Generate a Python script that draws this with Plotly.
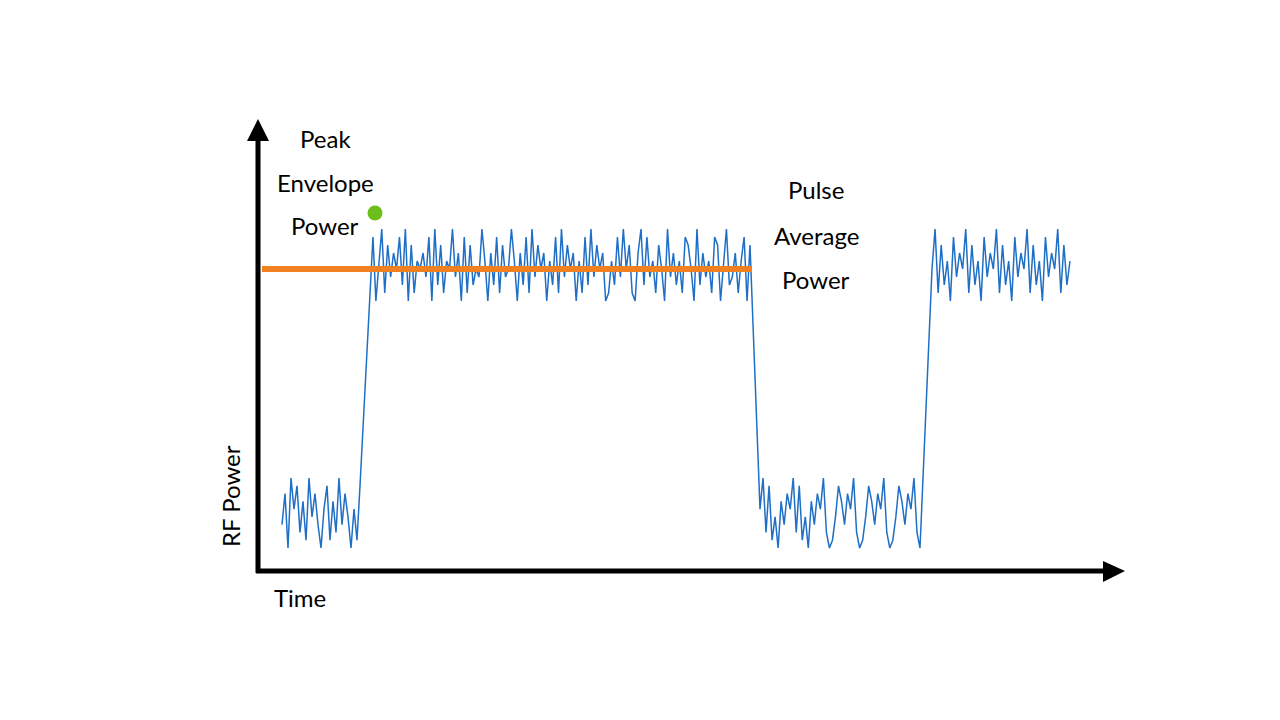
import plotly.graph_objects as go
import numpy as np

# Time axis positions (chart units) and noise digits
low1_x = (282, 360)
high1_x = (370, 750)
low2_x = (760, 920)
high2_x = (932, 1070)
low1_noise = "370958261947305816293740518"
high1_noise = ("2805917364829071546380927154936081724395062817349506281937460528193746051829374601528394710692835174093625187409263518704923615807")
low2_noise = "592814063759281406375920148637592014863759201486375920"
high2_noise = "4917250836491725083649172508364917250836491725"
high_base, high_span = 300, 72
low_base, low_span = 547, 70
pep_level = 268
peak_point = (375, 212)

def seg(rng, digits, base, span):
    xs = np.linspace(rng[0], rng[1], len(digits))
    ys = [base - int(c) / 9 * span for c in digits]
    return list(xs), ys

x1, y1 = seg(low1_x, low1_noise, low_base, low_span)
x2, y2 = seg(high1_x, high1_noise, high_base, high_span)
x3, y3 = seg(low2_x, low2_noise, low_base, low_span)
x4, y4 = seg(high2_x, high2_noise, high_base, high_span)
xs = x1 + x2 + x3 + x4
ys = y1 + y2 + y3 + y4

fig = go.Figure()
fig.add_trace(go.Scatter(x=xs, y=ys, mode="lines", line=dict(color="#1f6fc6", width=1.5)))
fig.add_trace(go.Scatter(x=[262, 752], y=[pep_level, pep_level], mode="lines",
                         line=dict(color="#f08020", width=6)))
fig.add_trace(go.Scatter(x=[peak_point[0]], y=[peak_point[1]], mode="markers",
                         marker=dict(color="#6cbf1a", size=15)))

shapes = [
    dict(type="line", x0=258, y0=572, x1=258, y1=135, line=dict(color="black", width=5)),
    dict(type="line", x0=256, y0=570, x1=1108, y1=570, line=dict(color="black", width=5)),
    dict(type="path", path="M 247 140 L 258 118 L 269 140 Z", fillcolor="black", line=dict(width=0)),
    dict(type="path", path="M 1103 560 L 1125 570 L 1103 581 Z", fillcolor="black", line=dict(width=0)),
]
font = dict(family="Lato", size=24, color="black")
ann = []
for x, yy, words in [(325, [137, 181, 224], ["Peak", "Envelope", "Power"]),
                     (816, [188, 234, 278], ["Pulse", "Average", "Power"])]:
    for y, w in zip(yy, words):
        ann.append(dict(x=x, y=y, text=w, showarrow=False, font=font))
ann += [
    dict(x=230, y=495, text="RF Power", showarrow=False, font=font, textangle=-90),
    dict(x=300, y=596, text="Time", showarrow=False, font=font),
]
fig.update_layout(width=1280, height=720, margin=dict(l=0, r=0, t=0, b=0),
                  plot_bgcolor="white", paper_bgcolor="white", showlegend=False,
                  xaxis=dict(range=[8, 1288], visible=False),
                  yaxis=dict(range=[727, 7], visible=False),
                  shapes=shapes, annotations=ann)
fig.write_html("out.html")
